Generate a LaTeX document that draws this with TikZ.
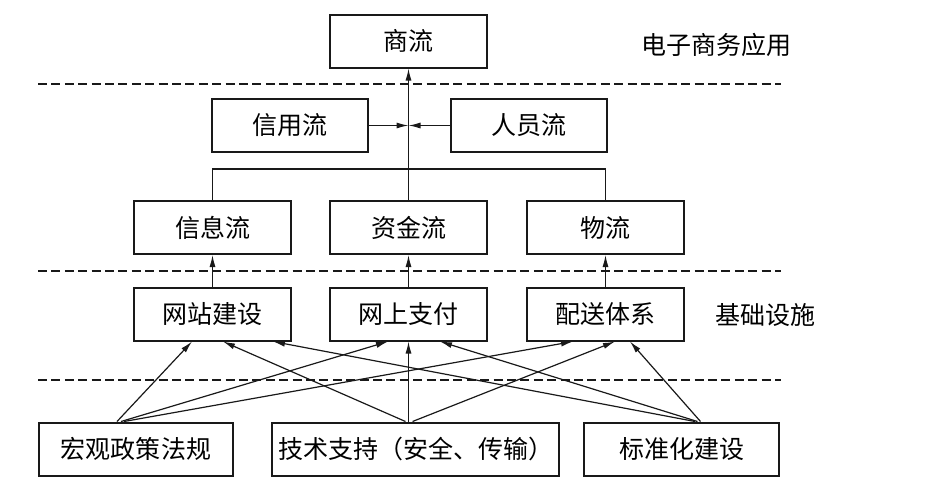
\documentclass[tikz,border=0pt]{standalone}
\usepackage{fontspec}
\setmainfont{Noto Sans CJK SC}
\usetikzlibrary{arrows.meta,calc}
\definecolor{LineClr}{rgb}{0.1,0.1,0.1}

\begin{document}
\begin{tikzpicture}[x=0.5pt,y=-0.5pt,
  box/.style={draw=LineClr,line width=1pt,minimum width=78.5pt,minimum height=26.5pt,
    inner sep=0pt,font=\fontsize{12.5}{14}\selectfont},
  arr/.style={draw=LineClr,line width=0.6pt,-{Latex[length=6pt,width=3pt]}},
  link/.style={draw=LineClr,line width=0.6pt},
  sep/.style={draw=LineClr,line width=0.7pt,dash pattern=on 4.5pt off 2.2pt},
  lbl/.style={font=\fontsize{12.5}{14}\selectfont}]
\useasboundingbox (0,0) rectangle (942,500);

% layers
\draw[sep] (38,84) -- (781,84);
\draw[sep] (38,271) -- (781,271);
\draw[sep] (38,380) -- (781,380);
\node[lbl] (yy) at (716,45) {电子商务应用};
\node[lbl] (jc) at (765,315) {基础设施};

% boxes
\node[box] (sl) at (408.5,41) {商流};
\node[box,minimum width=78pt] (xyl) at (290,125.5) {信用流};
\node[box,minimum width=78pt] (ryl) at (529,125.5) {人员流};
\node[box] (xxl) at (212.5,227.5) {信息流};
\node[box] (zjl) at (408.5,227.5) {资金流};
\node[box] (wl) at (605.5,227.5) {物流};
\node[box] (wzjs) at (212.5,314) {网站建设};
\node[box] (wszf) at (408.5,314) {网上支付};
\node[box] (psts) at (605.5,314) {配送体系};
\node[box,minimum width=97pt] (hgzc) at (136,449) {宏观政策法规};
\node[box,minimum width=143.5pt] (jszc) at (415.5,449) {技术支持（安全、传输）};
\node[box,minimum width=97.5pt] (bzh) at (681.5,449) {标准化建设};

% flows
\coordinate (hub) at (zjl.north |- 0,169);
\coordinate (mid) at (zjl.north |- xyl.east);
\draw[link] (xxl.north) |- (hub) -| (wl.north);
\draw[arr] (zjl.north) -- (sl.south);
\draw[arr] (xyl.east) -- (mid);
\draw[arr] (ryl.west) -- (mid);
\draw[arr] (wzjs.north) -- (xxl.south);
\draw[arr] (wszf.north) -- (zjl.south);
\draw[arr] (psts.north) -- (wl.south);

% support
\draw[arr] ($(hgzc.north)+(-19,0)$) -- ($(wzjs.south)+(-20.5,0)$);
\draw[arr] ($(hgzc.north)+(-15,0)$) -- ($(wszf.south)+(-20.5,0)$);
\draw[arr] ($(hgzc.north)+(-12,0)$) -- ($(psts.south)+(-32.5,0)$);
\draw[arr] ($(jszc.north)+(-10,0)$) -- ($(wzjs.south)+(10.5,0)$);
\draw[arr] ($(jszc.north)+(-7,0)$) -- ($(wszf.south)+(0,0)$);
\draw[arr] ($(jszc.north)+(-3,0)$) -- ($(psts.south)+(9.5,0)$);
\draw[arr] ($(bzh.north)+(13.5,0)$) -- ($(wzjs.south)+(60.5,0)$);
\draw[arr] ($(bzh.north)+(16,0)$) -- ($(wszf.south)+(31.5,0)$);
\draw[arr] ($(bzh.north)+(19,0)$) -- ($(psts.south)+(24.5,0)$);

\end{tikzpicture}
\end{document}
